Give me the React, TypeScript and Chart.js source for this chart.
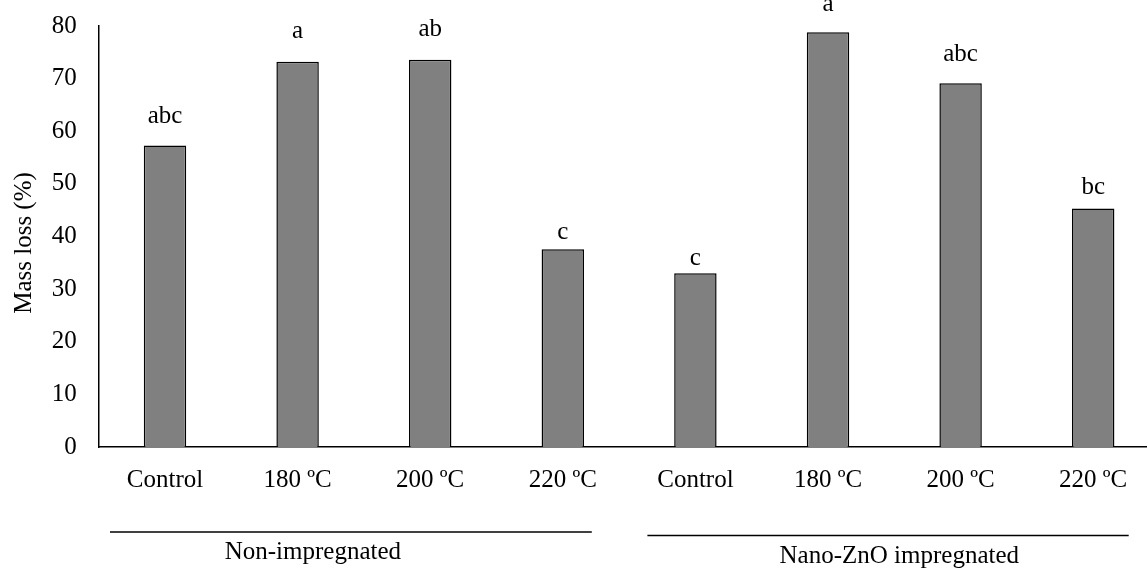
import React, { useEffect, useRef } from "react";
import { Chart, registerables } from "chart.js";

Chart.register(...registerables);

const categories = ["Control", "180 ºC", "200 ºC", "220 ºC", "Control", "180 ºC", "200 ºC", "220 ºC"];
const massLoss = [57.3, 73.2, 73.6, 37.6, 33.0, 78.8, 69.1, 45.3];
const letters = ["abc", "a", "ab", "c", "c", "a", "abc", "bc"];
const groupNames = ["Non-impregnated", "Nano-ZnO impregnated"];
const groupRanges = [[0, 3], [4, 7]];
const yTicks = [0, 10, 20, 30, 40, 50, 60, 70, 80];
const yTitle = "Mass loss (%)";

const FONT = "'Liberation Serif', 'Times New Roman', serif";

// styling: canvas is shifted up by SHIFT px on the page
const SHIFT = 11;
// gap (px) between each bar top and its letter baseline (styling only)
const letterGaps = [22, 24, 24, 10, 8, 21, 22, 15];

const overlayPlugin = {
  id: "overlay",
  afterDraw(chart: any) {
    const ctx = chart.ctx;
    const meta = chart.getDatasetMeta(0);
    const x = chart.scales.x;
    ctx.save();
    ctx.fillStyle = "#000";
    ctx.font = `25px ${FONT}`;
    ctx.textAlign = "center";
    ctx.textBaseline = "alphabetic";
    meta.data.forEach((el: any, i: number) => {
      ctx.fillText(letters[i], el.x, el.y - letterGaps[i]);
    });
    // y title
    ctx.save();
    ctx.translate(24, 243 + SHIFT);
    ctx.rotate(-Math.PI / 2);
    ctx.textBaseline = "middle";
    ctx.fillText(yTitle, 0, 0);
    ctx.restore();
    // group lines and labels
    const lineCfg = [
      { l: -55, r: 29, y: 532, tx: -51, ty: 559 },
      { l: -48, r: 35.5, y: 535.5, tx: 5, ty: 563 },
    ];
    ctx.strokeStyle = "#000";
    ctx.lineWidth = 1.5;
    groupRanges.forEach((g, gi) => {
      const c0 = x.getPixelForValue(g[0]);
      const c1 = x.getPixelForValue(g[1]);
      const cfg = lineCfg[gi];
      ctx.beginPath();
      ctx.moveTo(c0 + cfg.l, cfg.y + SHIFT);
      ctx.lineTo(c1 + cfg.r, cfg.y + SHIFT);
      ctx.stroke();
      ctx.fillText(groupNames[gi], (c0 + c1) / 2 + cfg.tx, cfg.ty + SHIFT);
    });
    ctx.restore();
  },
};

export default function App() {
  const ref = useRef<HTMLCanvasElement | null>(null);
  useEffect(() => {
    if (!ref.current) return;
    const chart = new Chart(ref.current, {
      type: "bar",
      data: {
        labels: categories,
        datasets: [
          {
            data: massLoss,
            backgroundColor: "#808080",
            borderColor: "#000",
            borderWidth: 1.5,
            barPercentage: 0.32,
            categoryPercentage: 1,
          },
        ],
      },
      options: {
        animation: false,
        responsive: false,
        devicePixelRatio: 1,
        layout: { padding: { left: 0, right: 2.5, top: 14, bottom: 0 } },
        plugins: { legend: { display: false }, tooltip: { enabled: false }, title: { display: false } },
        scales: {
          x: {
            grid: { display: false, drawTicks: false },
            border: { display: true, color: "#000", width: 1.5 },
            ticks: { color: "#000", font: { family: FONT, size: 25 }, padding: 18, maxRotation: 0, autoSkip: false },
            afterFit: (s: any) => {
              s.height = 127;
            },
          },
          y: {
            min: 0,
            max: 80,
            grid: { display: false, drawTicks: false },
            border: { display: true, color: "#000", width: 1.5 },
            afterBuildTicks: (s: any) => {
              s.ticks = yTicks.map((v) => ({ value: v }));
            },
            ticks: { color: "#000", font: { family: FONT, size: 25 }, padding: 22 },
            afterFit: (s: any) => {
              s.width = 98.7;
            },
          },
        },
      },
      plugins: [overlayPlugin],
    });
    return () => chart.destroy();
  }, []);
  return (
    <div style={{ position: "fixed", left: 0, top: 0, width: 1147, height: 574, overflow: "hidden", background: "#fff" }}>
      <canvas
        ref={ref}
        width={1162}
        height={574 + SHIFT}
        style={{ display: "block", position: "absolute", left: 0, top: -SHIFT }}
      />
    </div>
  );
}
